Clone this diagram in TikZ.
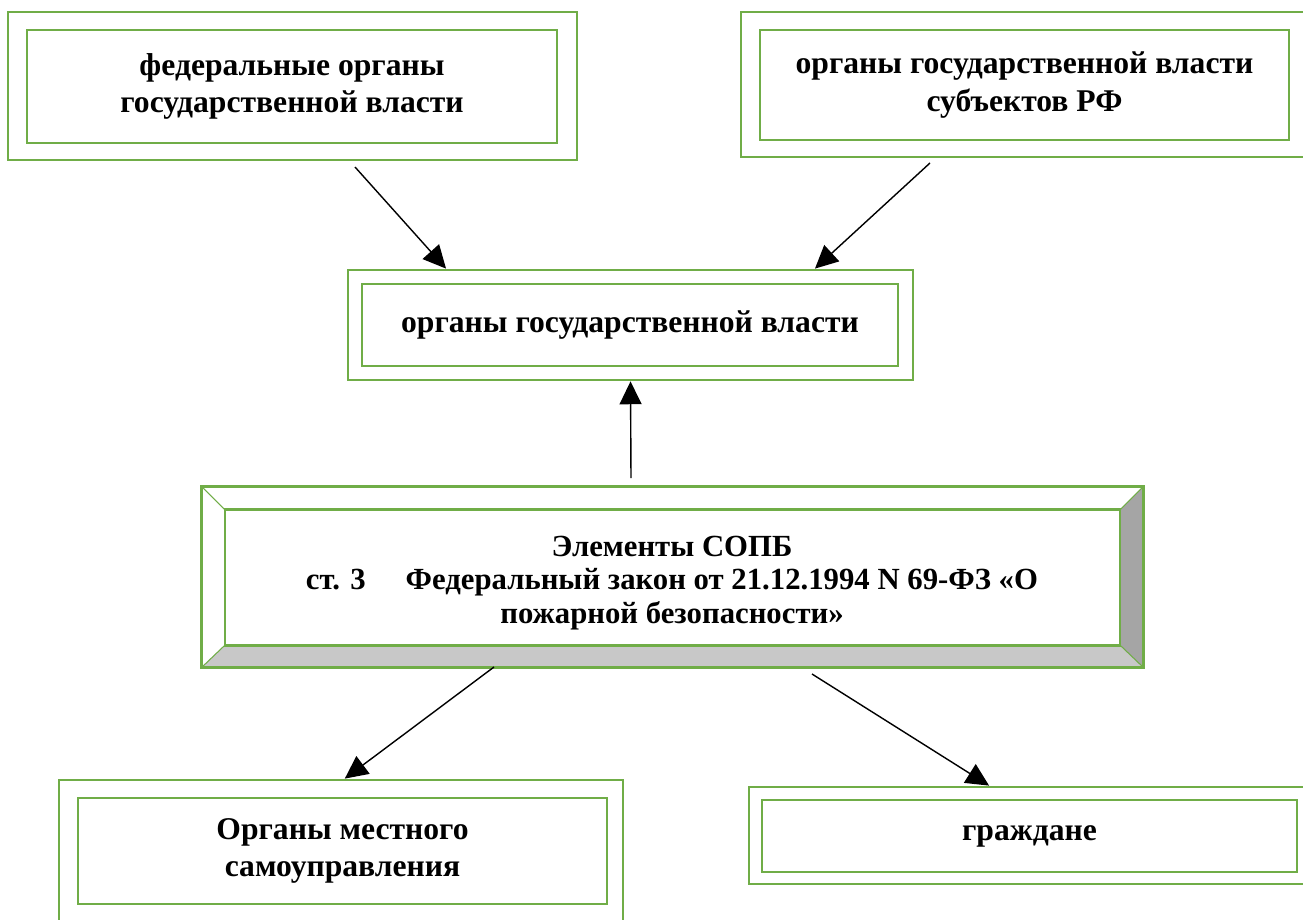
\documentclass[tikz,border=0pt]{standalone}
\usepackage{fontspec}
\setmainfont{Liberation Serif}
\usetikzlibrary{arrows.meta}
\definecolor{boxgreen}{HTML}{70AD47}
\definecolor{bevellight}{HTML}{C8C8C8}
\definecolor{beveldark}{HTML}{A5A5A5}

\begin{document}
\begin{tikzpicture}[x=0.02cm, y=-0.02cm,
	outbox/.style={draw=boxgreen, line width=1.6pt},
	inbox/.style={draw=boxgreen, line width=1.4pt, align=center, font=\fontsize{18}{21.5}\selectfont\bfseries},
	link/.style={-{Triangle[length=13pt,width=12.5pt]}, line width=0.8pt}]
	\useasboundingbox (0,0) rectangle (1303,920);

	\node[outbox, minimum width=11.38cm, minimum height=2.96cm] (fed) at (292.5,86) {};
	\node[inbox, minimum width=10.6cm, minimum height=2.26cm] (fedin) at (292,86.5) {федеральные органы\\государственной власти};

	\node[outbox, minimum width=11.34cm, minimum height=2.9cm] (subj) at (1024.5,84.5) {};
	\node[inbox, minimum width=10.58cm, minimum height=2.2cm] (subjin) at (1024.5,85) {органы государственной власти\\субъектов РФ};

	\node[outbox, minimum width=11.3cm, minimum height=2.2cm] (org) at (630.5,325) {};
	\node[inbox, minimum width=10.72cm, minimum height=1.64cm] (orgin) at (630,325) {органы государственной власти};

	% bevelled box
	\node[minimum width=18.82cm, minimum height=3.6cm] (el) at (672.5,577) {};
	\node[minimum width=17.9cm, minimum height=2.7cm] (elin) at (672.5,577.5) {};
	\fill[bevellight] (el.south west) -- (el.south east) -- (elin.south east) -- (elin.south west) -- cycle;
	\fill[beveldark] (el.north east) -- (el.south east) -- (elin.south east) -- (elin.north east) -- cycle;
	\draw[boxgreen, line width=0.6pt] (el.north west) -- (elin.north west) (el.north east) -- (elin.north east)
		(el.south west) -- (elin.south west) (el.south east) -- (elin.south east);
	\draw[boxgreen, line width=1.6pt] (el.north west) rectangle (el.south east);
	\draw[boxgreen, line width=1.4pt] (elin.north west) rectangle (elin.south east);
	\node[align=center, font=\fontsize{17.5}{19}\selectfont\bfseries] (eltext) at (672,583) {Элементы СОПБ\\ст. 3\hspace{1.3em}Федеральный закон от 21.12.1994 N 69-ФЗ «О\\пожарной безопасности»};

	\node[outbox, minimum width=11.28cm, minimum height=2.82cm] (loc) at (341,850.5) {};
	\node[inbox, minimum width=10.58cm, minimum height=2.12cm] (locin) at (342.5,851) {Органы местного\\самоуправления};

	\node[outbox, minimum width=11.22cm, minimum height=1.94cm] (cit) at (1029.5,835.5) {};
	\node[inbox, minimum width=10.7cm, minimum height=1.44cm] (citin) at (1029.5,836) {граждане};

	\coordinate (s1) at (355,167);
	\coordinate (s2) at (930,163);
	\coordinate (s3) at (631,478);
	\coordinate (s4) at (494,667);
	\coordinate (s5) at (812,674);

	\draw[link] (s1) -- (org.163);
	\draw[link] (s2) -- (org.17);
	\draw[link] (s3) -- (org.south);
	\draw[link] (s4) -- (loc.87);
	\draw[link] (s5) -- (cit.129);
\end{tikzpicture}
\end{document}
